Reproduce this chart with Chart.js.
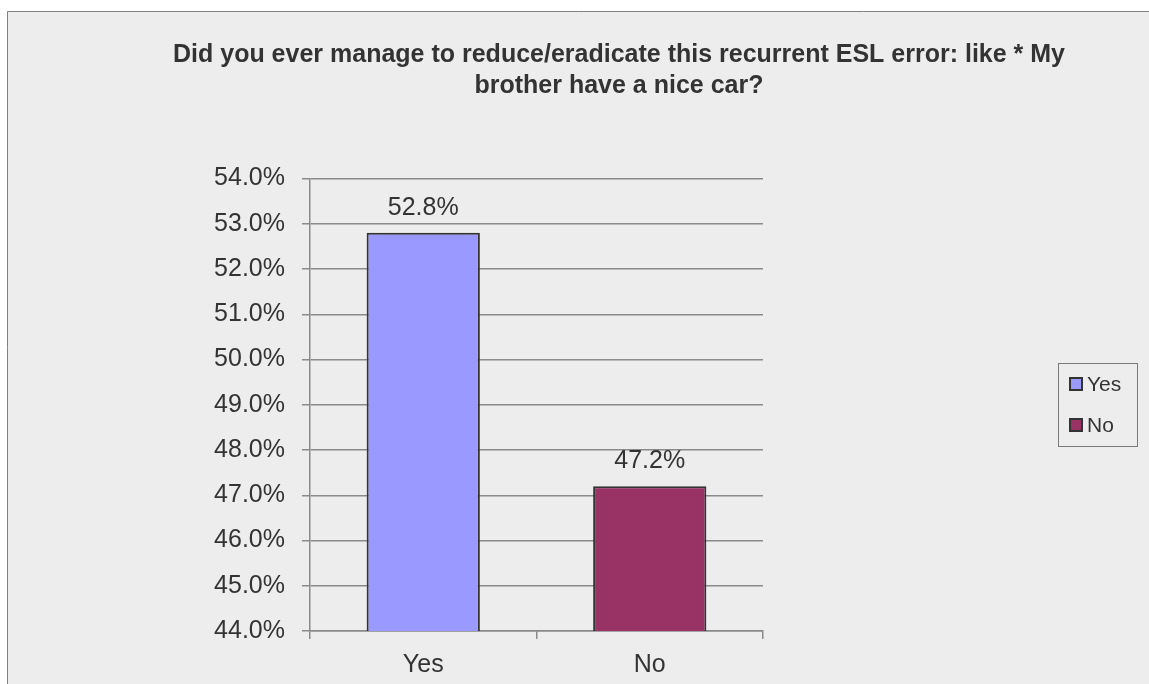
<!DOCTYPE html>
<html>
<head>
<meta charset="utf-8">
<script src="https://cdn.jsdelivr.net/npm/chart.js@4.4.0/dist/chart.umd.min.js"></script>
<style>
  html, body { margin: 0; padding: 0; background: #ffffff; }
  canvas { display: block; }
</style>
</head>
<body>
<canvas id="chart" width="1149" height="684"></canvas>
<script>
// Survey answers, in percent of respondents
const categories = ['Yes', 'No'];
const shares = [52.8, 47.2];
const barColors = ['#9999FF', '#993366'];
const titleLines = [
  'Did you ever manage to reduce/eradicate this recurrent ESL error: like * My',
  'brother have a nice car?'
];
const yMin = 44;
const yMax = 54;
const yStep = 1;

const FONT = '"Liberation Sans", Arial, Helvetica, sans-serif';
const TEXT = '#333333';
const LINE = '#8a8a8a';
Chart.defaults.font.family = FONT;
Chart.defaults.color = TEXT;

const fmt = v => v.toFixed(1) + '%';

// grey panel behind the whole chart
const panel = {
  id: 'panel',
  beforeDraw(chart) {
    const ctx = chart.ctx;
    ctx.save();
    ctx.fillStyle = '#ffffff';
    ctx.fillRect(0, 0, chart.width, chart.height);
    ctx.fillStyle = '#ededed';
    ctx.fillRect(8, 11, chart.width, chart.height);
    ctx.strokeStyle = '#808080';
    ctx.lineWidth = 1;
    ctx.beginPath();
    ctx.moveTo(7.5, chart.height);
    ctx.lineTo(7.5, 11.5);
    ctx.lineTo(chart.width, 11.5);
    ctx.stroke();
    ctx.restore();
  }
};

// value printed above each bar
const valueLabels = {
  id: 'valueLabels',
  afterDatasetsDraw(chart) {
    const ctx = chart.ctx;
    const meta = chart.getDatasetMeta(0);
    const data = chart.data.datasets[0].data;
    ctx.save();
    ctx.font = '25px ' + FONT;
    ctx.fillStyle = TEXT;
    ctx.textAlign = 'center';
    ctx.textBaseline = 'middle';
    meta.data.forEach((bar, i) => {
      ctx.fillText(fmt(data[i]), bar.x, bar.y - 25);
    });
    ctx.restore();
  }
};

// boxed legend on the right
const legendBox = {
  id: 'legendBox',
  afterDraw(chart) {
    const ctx = chart.ctx;
    const labels = chart.data.labels;
    const colors = chart.data.datasets[0].backgroundColor;
    const x = 1058, y = 363, w = 79, h = 83;
    ctx.save();
    ctx.strokeStyle = '#7a7a7a';
    ctx.lineWidth = 1;
    ctx.strokeRect(x + 0.5, y + 0.5, w, h);
    ctx.font = '21px ' + FONT;
    ctx.textAlign = 'left';
    ctx.textBaseline = 'middle';
    labels.forEach((lab, i) => {
      const cy = y + 21 + i * 41;
      ctx.fillStyle = colors[i];
      ctx.fillRect(1070, cy - 6, 12, 12);
      ctx.strokeStyle = '#333333';
      ctx.lineWidth = 2;
      ctx.strokeRect(1070, cy - 6, 12, 12);
      ctx.fillStyle = TEXT;
      ctx.fillText(lab, 1087, cy + 1);
    });
    ctx.restore();
  }
};

new Chart(document.getElementById('chart'), {
  type: 'bar',
  data: {
    labels: categories,
    datasets: [{
      data: shares,
      backgroundColor: barColors,
      borderColor: '#333333',
      borderWidth: 2,
      borderSkipped: 'start',
      barPercentage: 1,
      categoryPercentage: 0.5
    }]
  },
  options: {
    responsive: false,
    animation: false,
    events: [],
    layout: { padding: { left: 89, right: 0, top: 0, bottom: 0 } },
    plugins: {
      legend: { display: false },
      tooltip: { enabled: false },
      title: {
        display: true,
        text: titleLines,
        color: TEXT,
        font: { size: 25, weight: 'bold', lineHeight: 1.25 },
        padding: { top: 39, bottom: 77 }
      }
    },
    scales: {
      x: {
        grid: {
          display: true,
          drawOnChartArea: false,
          drawTicks: true,
          tickLength: 8,
          color: LINE,
          lineWidth: 1.5,
          offset: true
        },
        border: { color: LINE, width: 1.5 },
        ticks: { font: { size: 25 }, color: TEXT, padding: 11 },
        afterFit(scale) { scale.height = 53; }
      },
      y: {
        min: yMin,
        max: yMax,
        grid: {
          color: LINE,
          lineWidth: 1.5,
          tickLength: 8
        },
        border: { color: LINE, width: 1.5 },
        ticks: {
          stepSize: yStep,
          font: { size: 25 },
          color: TEXT,
          padding: 17,
          callback: v => fmt(v)
        },
        afterFit(scale) { scale.width = 221; }
      },
      // empty right-hand axis that reserves the space where the legend sits
      legendSpace: {
        type: 'linear',
        position: 'right',
        grid: { display: false },
        border: { display: false },
        ticks: { display: false },
        afterFit(scale) { scale.width = 386; }
      }
    }
  },
  plugins: [panel, valueLabels, legendBox]
});
</script>
</body>
</html>
